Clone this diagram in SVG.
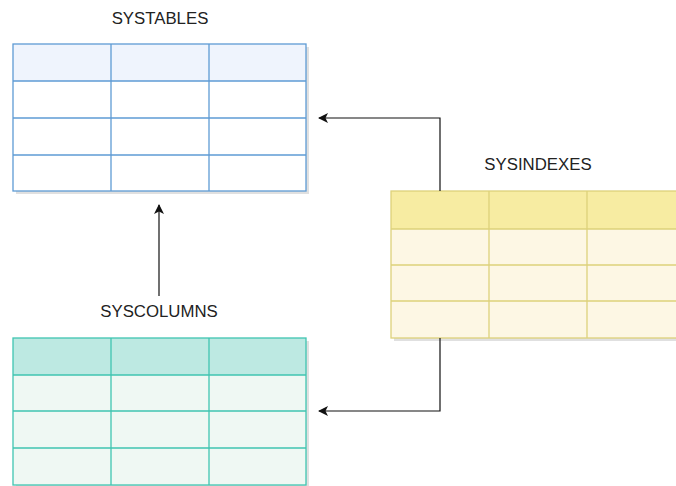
<svg xmlns="http://www.w3.org/2000/svg" width="676" height="486" viewBox="0 0 676 486">
<style>
.lbl{font-family:"Liberation Sans",Arial,sans-serif;font-size:16.8px;fill:#222;text-anchor:middle}
.shadow{fill:#000;opacity:0.12}
.blue{stroke:#5e9bd4;stroke-width:1.3}
.yel{stroke:#ddd27a;stroke-width:1.3}
.teal{stroke:#3fc5b1;stroke-width:1.3}
.conn{fill:none;stroke:#111;stroke-width:1.2}
</style>
<defs>
<marker id="ah" viewBox="0 0 10 10" refX="9" refY="5" markerWidth="10" markerHeight="10" markerUnits="userSpaceOnUse" orient="auto">
<path d="M0,0 L10,5 L0,10 L2.5,5 Z" fill="#111"/>
</marker>
</defs>
<rect width="676" height="486" fill="#fff"/>
<g id="systables">
<text class="lbl" x="160" y="24">SYSTABLES</text>
<rect class="shadow" x="16" y="47" width="293" height="147"/>
<rect x="13" y="44" width="293" height="147" fill="#fff"/>
<rect x="13" y="44" width="293" height="37" fill="#eff4fd"/>
<g class="blue" fill="none">
<rect x="13" y="44" width="293" height="147"/>
<line x1="13" y1="81" x2="306" y2="81"/>
<line x1="13" y1="118" x2="306" y2="118"/>
<line x1="13" y1="155" x2="306" y2="155"/>
<line x1="111" y1="44" x2="111" y2="191"/>
<line x1="209" y1="44" x2="209" y2="191"/>
</g>
</g>
<g id="sysindexes">
<text class="lbl" x="538" y="170">SYSINDEXES</text>
<rect class="shadow" x="394" y="194" width="300" height="147"/>
<rect x="391" y="191" width="300" height="147" fill="#fdf7e4"/>
<rect x="391" y="191" width="300" height="38" fill="#f7eca2"/>
<g class="yel" fill="none">
<rect x="391" y="191" width="300" height="147"/>
<line x1="391" y1="229" x2="691" y2="229"/>
<line x1="391" y1="265" x2="691" y2="265"/>
<line x1="391" y1="301" x2="691" y2="301"/>
<line x1="489" y1="191" x2="489" y2="338"/>
<line x1="587" y1="191" x2="587" y2="338"/>
</g>
</g>
<g id="syscolumns">
<text class="lbl" x="159" y="317">SYSCOLUMNS</text>
<rect class="shadow" x="16" y="341" width="293" height="147"/>
<rect x="13" y="338" width="293" height="147" fill="#eff8f3"/>
<rect x="13" y="338" width="293" height="37" fill="#bde9e2"/>
<g class="teal" fill="none">
<rect x="13" y="338" width="293" height="147"/>
<line x1="13" y1="375" x2="306" y2="375"/>
<line x1="13" y1="411" x2="306" y2="411"/>
<line x1="13" y1="448" x2="306" y2="448"/>
<line x1="111" y1="338" x2="111" y2="485"/>
<line x1="209" y1="338" x2="209" y2="485"/>
</g>
</g>
<g id="connectors">
<path class="conn" d="M440,191 L440,118 L319,118" marker-end="url(#ah)"/>
<path class="conn" d="M440,338 L440,411 L319,411" marker-end="url(#ah)"/>
<path class="conn" d="M159,296 L159,205" marker-end="url(#ah)"/>
</g>
</svg>
